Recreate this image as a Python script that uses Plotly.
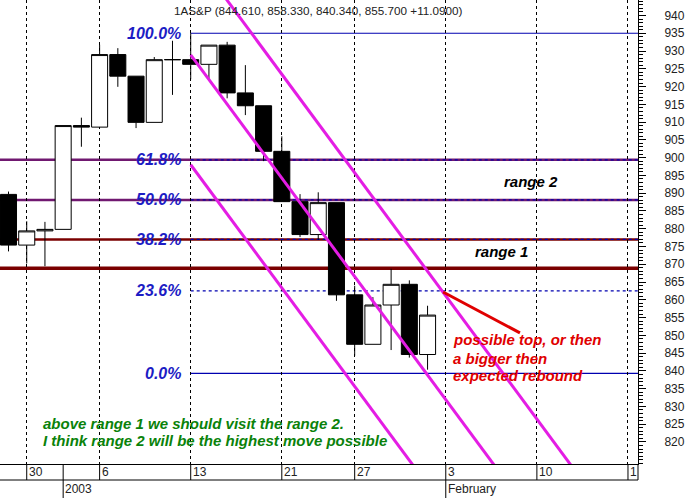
import plotly.graph_objects as go

# ---------------- data ----------------
axis_days = [
    "2002-12-27", "2002-12-30", "2002-12-31", "2003-01-02", "2003-01-03",
    "2003-01-06", "2003-01-07", "2003-01-08", "2003-01-09", "2003-01-10",
    "2003-01-13", "2003-01-14", "2003-01-15", "2003-01-16", "2003-01-17",
    "2003-01-21", "2003-01-22", "2003-01-23", "2003-01-24",
    "2003-01-27", "2003-01-28", "2003-01-29", "2003-01-30", "2003-01-31",
    "2003-02-03", "2003-02-04", "2003-02-05", "2003-02-06", "2003-02-07",
    "2003-02-10", "2003-02-11", "2003-02-12", "2003-02-13", "2003-02-14",
    "2003-02-18",
]
candle_open = [889.66, 875.40, 879.39, 879.82, 909.03, 908.59, 929.01, 922.93, 909.93, 927.58,
               927.57, 926.26, 931.66, 918.22, 914.60, 901.78, 887.62, 878.36, 887.34,
               861.40, 847.48, 858.54, 864.36, 844.61]
candle_high = [890.46, 882.10, 881.93, 909.03, 911.25, 931.77, 930.81, 922.93, 928.31, 932.89,
               935.05, 931.66, 932.59, 926.03, 914.60, 906.00, 889.74, 890.25, 887.34,
               863.95, 860.76, 868.72, 865.48, 858.33]
candle_low = [873.62, 870.23, 869.45, 879.82, 903.07, 908.59, 919.93, 908.32, 909.93, 917.66,
              922.05, 921.72, 916.70, 911.98, 899.02, 887.62, 877.64, 876.89, 859.71,
              844.25, 847.48, 845.86, 843.74, 840.34]
candle_close = [875.40, 879.39, 879.82, 909.03, 908.59, 929.01, 922.93, 909.93, 927.57, 927.57,
                926.26, 931.66, 918.22, 914.60, 901.78, 887.62, 878.36, 887.34, 861.40,
                847.48, 858.54, 864.36, 844.61, 855.70]

tick_days = ["2002-12-30", "2003-01-06", "2003-01-13", "2003-01-21", "2003-01-27",
             "2003-02-03", "2003-02-10", "2003-02-18"]
tick_labels = ["30", "6", "13", "21", "27", "3", "10", "1"]
period_days = ["2003-01-02", "2003-02-03"]
period_labels = ["2003", "February"]

y_ticks = list(range(820, 945, 5))

fib_levels = [935.0, 899.4, 888.1, 877.0, 862.5, 839.3]
fib_labels = ["100.0%", "61.8%", "50.0%", "38.2%", "23.6%", "0.0%"]
fib_start_day = "2003-01-13"

range2_levels = [899.4, 888.1]
range1_levels = [877.0, 868.9]

# trend channel lines (trading-day index, price)
channel_mid_x = [10, 31]
channel_mid_y = [928.9, 783.4]
channel_low_x = [10, 27]
channel_low_y = [898.0, 780.2]
channel_up_x = [11, 33]
channel_up_y = [951.2, 798.7]

arrow_x = [23.85, 28.07]
arrow_y = [862.2, 850.7]

title_text = "1AS&P (844.610, 858.330, 840.340, 855.700 +11.0900)"
red_lines = ["possible top, or then", "a bigger then", "expected rebound"]
green_lines = ["above range 1 we should visit the range 2.",
               "I think range 2 will be the highest move possible"]

# ---------------- figure ----------------
FONT = "Liberation Sans, Arial, sans-serif"
day_index = {d: i for i, d in enumerate(axis_days)}
x_candles = list(range(len(candle_open)))
tick_x = [day_index[d] for d in tick_days]
period_x = [day_index[d] for d in period_days]
fib_x0 = day_index[fib_start_day]

fig = go.Figure()

fig.add_trace(go.Candlestick(
    x=x_candles, open=candle_open, high=candle_high, low=candle_low, close=candle_close,
    increasing=dict(line=dict(color="black", width=1), fillcolor="white"),
    decreasing=dict(line=dict(color="black", width=1), fillcolor="black"),
    whiskerwidth=0, showlegend=False, hoverinfo="skip",
))

MAG = "#E41DE4"
for xs, ys in [(channel_mid_x, channel_mid_y), (channel_low_x, channel_low_y),
               (channel_up_x, channel_up_y)]:
    fig.add_trace(go.Scatter(x=xs, y=ys, mode="lines",
                             line=dict(color=MAG, width=3), showlegend=False, hoverinfo="skip"))

fig.add_trace(go.Scatter(x=arrow_x, y=arrow_y, mode="lines",
                         line=dict(color="#E00000", width=3), showlegend=False, hoverinfo="skip"))

shapes = []
for lv in range2_levels:
    shapes.append(dict(type="line", xref="x", yref="y", x0=-2, x1=40, y0=lv, y1=lv,
                       line=dict(color="#701870", width=2.5), layer="below"))
for k, lv in enumerate(range1_levels):
    shapes.append(dict(type="line", xref="x", yref="y", x0=-2, x1=40, y0=lv, y1=lv,
                       line=dict(color="#7A0000", width=2.5 if k == 0 else 3.5), layer="below"))
for lab, lv in zip(fib_labels, fib_levels):
    solid = lab in ("100.0%", "0.0%")
    shapes.append(dict(type="line", xref="x", yref="y", x0=fib_x0, x1=40, y0=lv, y1=lv,
                       line=dict(color="#0000B0", width=1.2, dash="solid" if solid else "dot"),
                       layer="below"))

# date axis rows
ROW1 = -16 / 464
ROW2 = -34 / 464
shapes.append(dict(type="line", xref="paper", yref="paper", x0=0, x1=1, y0=ROW1, y1=ROW1,
                   line=dict(color="black", width=1)))
shapes.append(dict(type="line", xref="paper", yref="paper", x0=1, x1=1, y0=0, y1=ROW1,
                   line=dict(color="black", width=1)))
for tx in tick_x:
    shapes.append(dict(type="line", xref="x", yref="paper", x0=tx, x1=tx, y0=0, y1=ROW1,
                       line=dict(color="black", width=1)))
for px in period_x:
    shapes.append(dict(type="line", xref="x", yref="paper", x0=px, x1=px, y0=0 if px == period_x[0] else ROW1,
                       y1=ROW2, line=dict(color="black", width=1)))

annotations = []
for tx, tl in zip(tick_x, tick_labels):
    annotations.append(dict(x=tx, y=(ROW1) / 2, xref="x", yref="paper", text=tl,
                            xanchor="left", yanchor="middle", xshift=0, showarrow=False,
                            font=dict(family=FONT, size=12, color="#222")))
for px, pl in zip(period_x, period_labels):
    annotations.append(dict(x=px, y=(ROW1 + ROW2) / 2, xref="x", yref="paper", text=pl,
                            xanchor="left", yanchor="middle", xshift=0, showarrow=False,
                            font=dict(family=FONT, size=12, color="#222")))

for lab, lv in zip(fib_labels, fib_levels):
    annotations.append(dict(x=9.55, y=lv, xref="x", yref="y", text=f"<b><i>{lab}</i></b>",
                            xanchor="right", yanchor="middle", showarrow=False,
                            font=dict(family=FONT, size=16, color="#1C1CC4")))

annotations.append(dict(x=9.0, y=941.5, xref="x", yref="y", text=title_text,
                        xanchor="left", yanchor="middle", showarrow=False,
                        font=dict(family=FONT, size=11.7, color="#222")))
annotations.append(dict(x=27.1, y=893.2, xref="x", yref="y", text="<b><i>range 2</i></b>",
                        xanchor="left", yanchor="middle", showarrow=False,
                        font=dict(family=FONT, size=15, color="black")))
annotations.append(dict(x=25.5, y=873.5, xref="x", yref="y", text="<b><i>range 1</i></b>",
                        xanchor="left", yanchor="middle", showarrow=False,
                        font=dict(family=FONT, size=15, color="black")))
for txt, yv in zip(red_lines, [848.7, 843.6, 838.6]):
    annotations.append(dict(x=24.3, y=yv, xref="x", yref="y", text=f"<b><i>{txt}</i></b>",
                            xanchor="left", yanchor="middle", showarrow=False,
                            font=dict(family=FONT, size=15, color="#E00000")))
for txt, yv in zip(green_lines, [825.3, 820.3]):
    annotations.append(dict(x=1.78, y=yv, xref="x", yref="y", text=f"<b><i>{txt}</i></b>",
                            xanchor="left", yanchor="middle", showarrow=False,
                            font=dict(family=FONT, size=15, color="#0A820A")))

fig.update_layout(
    width=689, height=498,
    margin=dict(l=0, r=51, t=0, b=34, autoexpand=False),
    paper_bgcolor="white", plot_bgcolor="white",
    boxgap=0.12, boxgroupgap=0,
    shapes=shapes, annotations=annotations,
    font=dict(family=FONT, size=12, color="#222"),
    showlegend=False,
)
fig.update_xaxes(
    range=[-0.467, 34.55], rangeslider=dict(visible=False),
    tickvals=tick_x, showticklabels=False, ticks="",
    showgrid=True, gridcolor="black", gridwidth=1, griddash="dot",
    showline=True, linecolor="black", linewidth=1, zeroline=False, fixedrange=True,
)
fig.update_yaxes(
    range=[813.8, 944.36], side="right",
    tickvals=y_ticks, ticks="outside", ticklen=7, tickcolor="black", tickwidth=1,
    minor=dict(dtick=1, ticks="outside", ticklen=4, tickcolor="black", showgrid=False),
    ticklabelstandoff=16,
    showgrid=False, showline=True, linecolor="black", linewidth=1, zeroline=False,
    tickfont=dict(family=FONT, size=12, color="#222"), fixedrange=True,
)

fig.write_html("out.html", config={"displayModeBar": False},
               post_script="document.body.style.margin='0';document.body.style.overflow='hidden';")
